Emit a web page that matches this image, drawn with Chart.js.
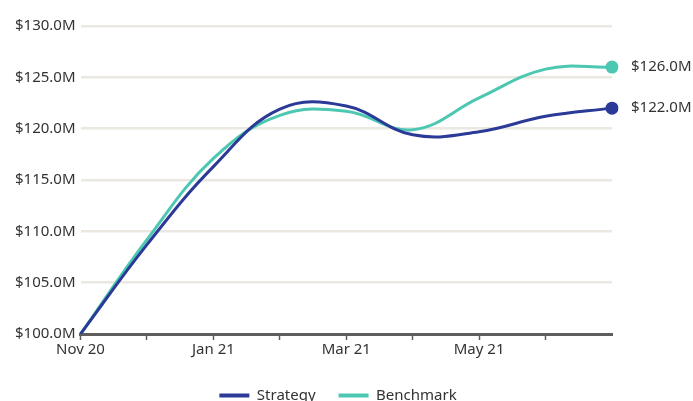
<!DOCTYPE html>
<html>
<head>
<meta charset="utf-8">
<script src="https://cdn.jsdelivr.net/npm/chart.js@4"></script>
<style>
  html, body { margin: 0; padding: 0; background: #fff; overflow: hidden; }
  #wrap { width: 693px; height: 413px; }
</style>
</head>
<body>
<div id="wrap"><canvas id="c" width="693" height="413"></canvas></div>
<script>
const months = ['Nov 20', 'Dec 20', 'Jan 21', 'Feb 21', 'Mar 21', 'Apr 21', 'May 21', 'Jun 21', 'Jul 21'];
const strategy = [100.0, 108.7, 116.3, 121.9, 122.2, 119.4, 119.7, 121.2, 122.0];
const benchmark = [100.0, 109.2, 117.1, 121.3, 121.7, 119.9, 123.0, 125.8, 126.0];
const yTicks = [100, 105, 110, 115, 120, 125, 130];
const seriesNames = ['Strategy', 'Benchmark'];
const seriesColors = ['#2b3a96', '#4cc7b1'];

const FONT = "'Noto Sans', 'Open Sans', sans-serif";
const TEXT = '#333333';
const fmt = v => '$' + Number(v).toFixed(1) + 'M';

const endLabels = {
  id: 'endLabels',
  afterDatasetsDraw(chart) {
    const ctx = chart.ctx;
    ctx.save();
    ctx.font = '15px ' + FONT;
    ctx.fillStyle = TEXT;
    ctx.textAlign = 'left';
    ctx.textBaseline = 'middle';
    chart.data.datasets.forEach((ds, i) => {
      const meta = chart.getDatasetMeta(i);
      const last = meta.data[meta.data.length - 1];
      const val = ds.data[ds.data.length - 1];
      ctx.fillText(fmt(val), last.x + 19, last.y);
    });
    ctx.restore();
  }
};

// legend box spans only the padded area; move it so it centres like the original
const legendShift = {
  id: 'legendShift',
  afterLayout(chart) {
    if (chart.legend) {
      chart.legend.left += 27;
      chart.legend.right += 27;
    }
  }
};

const lastOnly = (r) => (ctx) => ctx.dataIndex === ctx.dataset.data.length - 1 ? r : 0;

new Chart(document.getElementById('c'), {
  type: 'line',
  data: {
    labels: months,
    datasets: seriesNames.map((name, i) => ({
      label: name,
      data: [strategy, benchmark][i],
      borderColor: seriesColors[i], backgroundColor: seriesColors[i],
      borderWidth: 3, tension: 0.4,
      pointRadius: lastOnly(6.5), pointHoverRadius: 0, pointBorderWidth: 0,
      fill: false
    }))
  },
  options: {
    responsive: false,
    animation: false,
    layout: { padding: { left: 10, right: 81, top: 26, bottom: 0 } },
    plugins: {
      tooltip: { enabled: false },
      legend: {
        position: 'bottom',
        labels: {
          usePointStyle: true, pointStyle: 'line', pointStyleWidth: 30,
          boxHeight: 15,
          color: TEXT, font: { family: FONT, size: 15 }, padding: 23,
          generateLabels: (chart) => {
            const items = Chart.defaults.plugins.legend.labels.generateLabels(chart);
            items.forEach((it, i) => {
              it.lineWidth = 4;
              it.strokeStyle = seriesColors[i];
              it.fillStyle = seriesColors[i];
            });
            return items;
          }
        }
      }
    },
    scales: {
      x: {
        type: 'category',
        offset: false,
        afterFit: (axis) => { axis.height = 31; },
        border: { display: true, color: '#605e5c', width: 3 },
        grid: {
          drawOnChartArea: false, drawTicks: true, tickLength: 6,
          tickColor: (c) => c.index === months.length - 1 ? 'rgba(0,0,0,0)' : '#605e5c',
          tickWidth: 1.5
        },
        ticks: {
          autoSkip: false, maxRotation: 0, padding: 1,
          color: TEXT, font: { family: FONT, size: 15 },
          callback: (v, i) => (i % 2 === 0 && i < months.length - 1) ? months[i] : ''
        }
      },
      y: {
        min: yTicks[0], max: yTicks[yTicks.length - 1],
        afterBuildTicks: (axis) => { axis.ticks = yTicks.map(v => ({ value: v })); },
        border: { display: false },
        grid: { color: '#ebe8e2', lineWidth: 2.5, drawTicks: false },
        ticks: {
          padding: 5, color: TEXT, font: { family: FONT, size: 15 },
          callback: (v) => fmt(v)
        }
      }
    }
  },
  plugins: [endLabels, legendShift]
});
</script>
</body>
</html>
